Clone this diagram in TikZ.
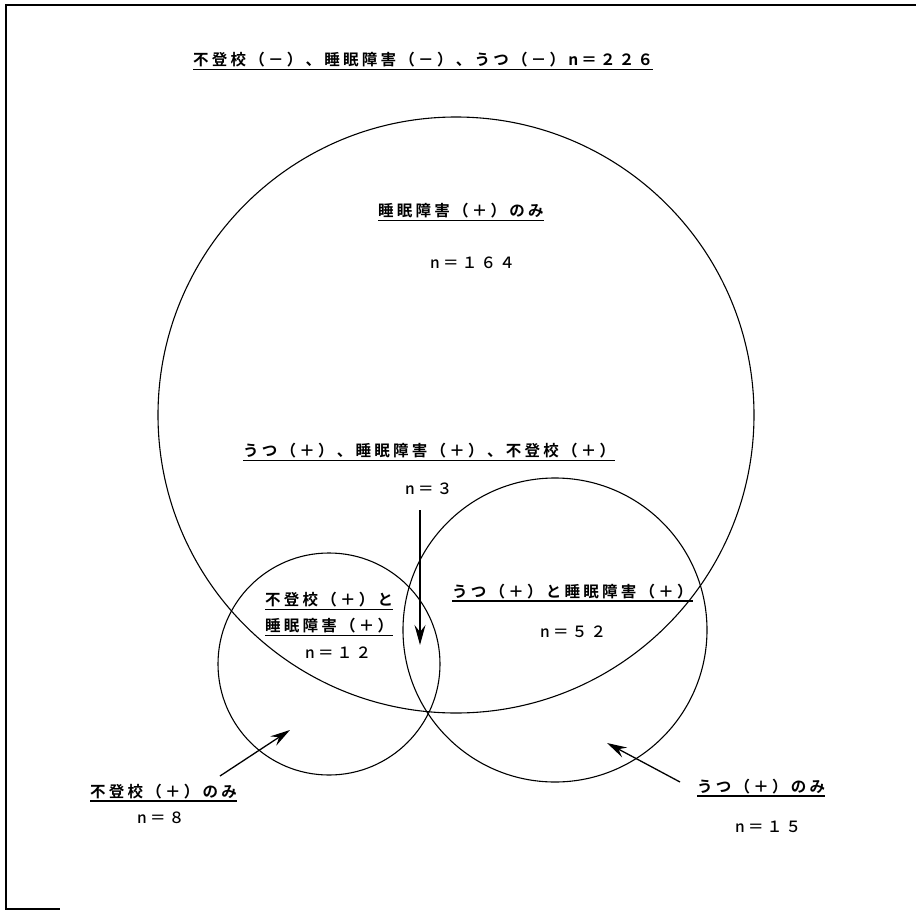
\documentclass[tikz,border=0pt]{standalone}
\usepackage{fontspec}
\newfontfamily\jp{Noto Sans CJK JP}[LetterSpace=21,BoldFont={* Bold}]
\newfontfamily\jpm{Noto Sans CJK JP Medium}[LetterSpace=21]
\usetikzlibrary{arrows.meta}
\tikzset{
  lbl/.style={anchor=base west, inner sep=0pt, font=\jp\bfseries\fontsize{15.5}{18}\selectfont},
  num/.style={anchor=base west, inner sep=0pt, font=\jpm\fontsize{15.5}{18}\selectfont},
  uline/.style={line width=1.4pt},
  circ/.style={line width=1.1pt},
  arr/.style={line width=1.3pt, -{Stealth[length=20pt,width=11pt,inset=7pt]}},
  frame/.style={line width=1.6pt},
}
\newcommand{\ul}[1]{\draw[uline] ([yshift=-4pt]#1.base west) -- ([yshift=-4pt]#1.base east);}
\begin{document}
\begin{tikzpicture}[x=1pt,y=-1pt]
\useasboundingbox (0,0) rectangle (916,910);
% frame
\draw[frame] (916,5) -- (6,5) -- (6,909) -- (60,909);
% circles
\draw[circ] (456,415) circle [radius=298];
\draw[circ] (329,664) circle [radius=111];
\draw[circ] (555,630) circle [radius=152];
% labels
\node[lbl] (title) at (193,65.5) {不登校（－）、睡眠障害（－）、うつ（－）n＝２２６};
\ul{title}
\node[lbl] (sonly) at (378,216.5) {睡眠障害（＋）のみ};
\ul{sonly}
\node[num] (n164) at (430,268) {n＝１６４};
\node[lbl] (all) at (243,456.5) {うつ（＋）、睡眠障害（＋）、不登校（＋）};
\ul{all}
\node[num] (n3) at (405,494) {n＝３};
\node[lbl] (fs1) at (265,605.5) {不登校（＋）と};
\ul{fs1}
\node[lbl] (fs2) at (265,631.5) {睡眠障害（＋）};
\ul{fs2}
\node[num] (n12) at (305,658) {n＝１２};
\node[lbl] (us) at (452,597) {うつ（＋）と睡眠障害（＋）};
\ul{us}
\node[num] (n52) at (540,637) {n＝５２};
\node[lbl] (fonly) at (90,797) {不登校（＋）のみ};
\ul{fonly}
\node[num] (n8) at (137,823) {n＝８};
\node[lbl] (uonly) at (697,792) {うつ（＋）のみ};
\ul{uonly}
\node[num] (n15) at (735,832) {n＝１５};
% arrows
\coordinate (a1s) at (420,510);
\coordinate (a1e) at (420,645);
\coordinate (a2s) at (220,776);
\coordinate (a2e) at (290,730);
\coordinate (a3s) at (680,782);
\coordinate (a3e) at (607,743);
\draw[arr] (a1s) -- (a1e);
\draw[arr] (a2s) -- (a2e);
\draw[arr] (a3s) -- (a3e);
\end{tikzpicture}
\end{document}
